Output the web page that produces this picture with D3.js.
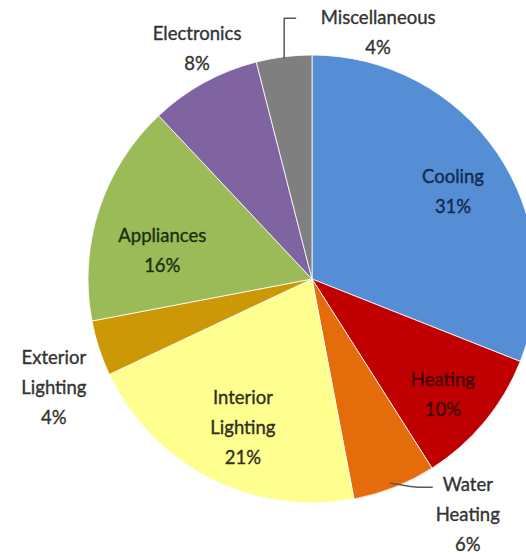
<!DOCTYPE html>
<html>
<head>
<meta charset="utf-8">
<script src="https://cdn.jsdelivr.net/npm/d3@7"></script>
<style>
  html, body { margin: 0; padding: 0; background: #ffffff; }
  svg { display: block; }
</style>
</head>
<body>
<svg id="chart" width="526" height="559"></svg>
<script>
// ---- data ----
const categories = ["Cooling", "Heating", "Water Heating", "Interior Lighting",
                    "Exterior Lighting", "Appliances", "Electronics", "Miscellaneous"];
const values = [31, 10, 6, 21, 4, 16, 8, 4];
const labelLines = [["Cooling"], ["Heating"], ["Water", "Heating"], ["Interior", "Lighting"],
                    ["Exterior", "Lighting"], ["Appliances"], ["Electronics"], ["Miscellaneous"]];

// ---- styles ----
const sliceColors = ["#558ED5", "#C00000", "#E46C0A", "#FFFF8F",
                     "#CC9806", "#9BBB59", "#8064A2", "#7F7F7F"];
const textColors = ["#12294d", "#400000", "#333333", "#30301a",
                    "#333333", "#18300e", "#333333", "#333333"];
// label placement: radius factor and angular offset (deg) from slice mid-angle
const labelPlace = [
  { r: 0.74, da: 2.5 }, { r: 0.78, da: 1.9 }, { r: 1.26, da: -11.9 }, { r: 0.73, da: -2 },
  { r: 1.25, da: -4.8 }, { r: 0.68, da: -7.4 }, { r: 1.15, da: 2.3 }, { r: 1.14, da: 22.2 }
];

const W = 526, H = 559;
const cx = 312, cy = 279, R = 224;
const lineH = 30;

const svg = d3.select("#chart");
const g = svg.append("g").attr("transform", `translate(${cx},${cy})`);

const data = categories.map((c, i) => ({ cat: c, value: values[i], i }));
const pie = d3.pie().value(d => d.value).sort(null);
const arcs = pie(data);
const arc = d3.arc().innerRadius(0).outerRadius(R);

g.selectAll("path.slice")
  .data(arcs)
  .join("path")
  .attr("class", "slice")
  .attr("d", arc)
  .attr("fill", d => sliceColors[d.data.i])
  .attr("stroke", "#ffffff")
  .attr("stroke-width", 0.8);

function polar(angle, r) {
  return [Math.sin(angle) * r, -Math.cos(angle) * r];
}

const labelPos = arcs.map(d => {
  const p = labelPlace[d.data.i];
  const mid = (d.startAngle + d.endAngle) / 2 + p.da * Math.PI / 180;
  return polar(mid, p.r * R);
});

// leader lines for Water Heating and Miscellaneous
arcs.forEach(d => {
  const i = d.data.i;
  const mid = (d.startAngle + d.endAngle) / 2;
  const [lx, ly] = labelPos[i];
  const n = labelLines[i].length + 1;
  const firstY = ly - (n - 1) / 2 * lineH;
  if (categories[i] === "Miscellaneous") {
    const s = polar(mid, R - 2);
    const pts = [s, [s[0], firstY + 1], [s[0] + 12, firstY + 1]];
    g.append("path").attr("d", d3.line()(pts)).attr("fill", "none")
      .attr("stroke", "#595959").attr("stroke-width", 1.5);
  }
  if (categories[i] === "Water Heating") {
    const s = polar(mid + 0.012, R * 0.975);
    const pts = [s, [s[0] + 14, firstY + 1], [s[0] + 24, firstY + 3], [lx - 35, firstY + 3]];
    g.append("path").attr("d", d3.line().curve(d3.curveBasis)(pts)).attr("fill", "none")
      .attr("stroke", "#595959").attr("stroke-width", 1.5);
  }
});

// labels
arcs.forEach(d => {
  const i = d.data.i;
  const [lx, ly] = labelPos[i];
  const lines = labelLines[i].concat([Math.round(d.data.value) + "%"]);
  const n = lines.length;
  const t = g.append("text")
    .attr("text-anchor", "middle")
    .attr("font-family", "Lato, 'Open Sans', sans-serif")
    .attr("font-size", 18.5)
    .attr("fill", textColors[i])
    .attr("stroke", textColors[i])
    .attr("stroke-width", 0.35);
  lines.forEach((ln, k) => {
    t.append("tspan")
      .attr("x", lx)
      .attr("y", ly + (k - (n - 1) / 2) * lineH)
      .attr("dy", "0.35em")
      .text(ln);
  });
});
</script>
</body>
</html>
